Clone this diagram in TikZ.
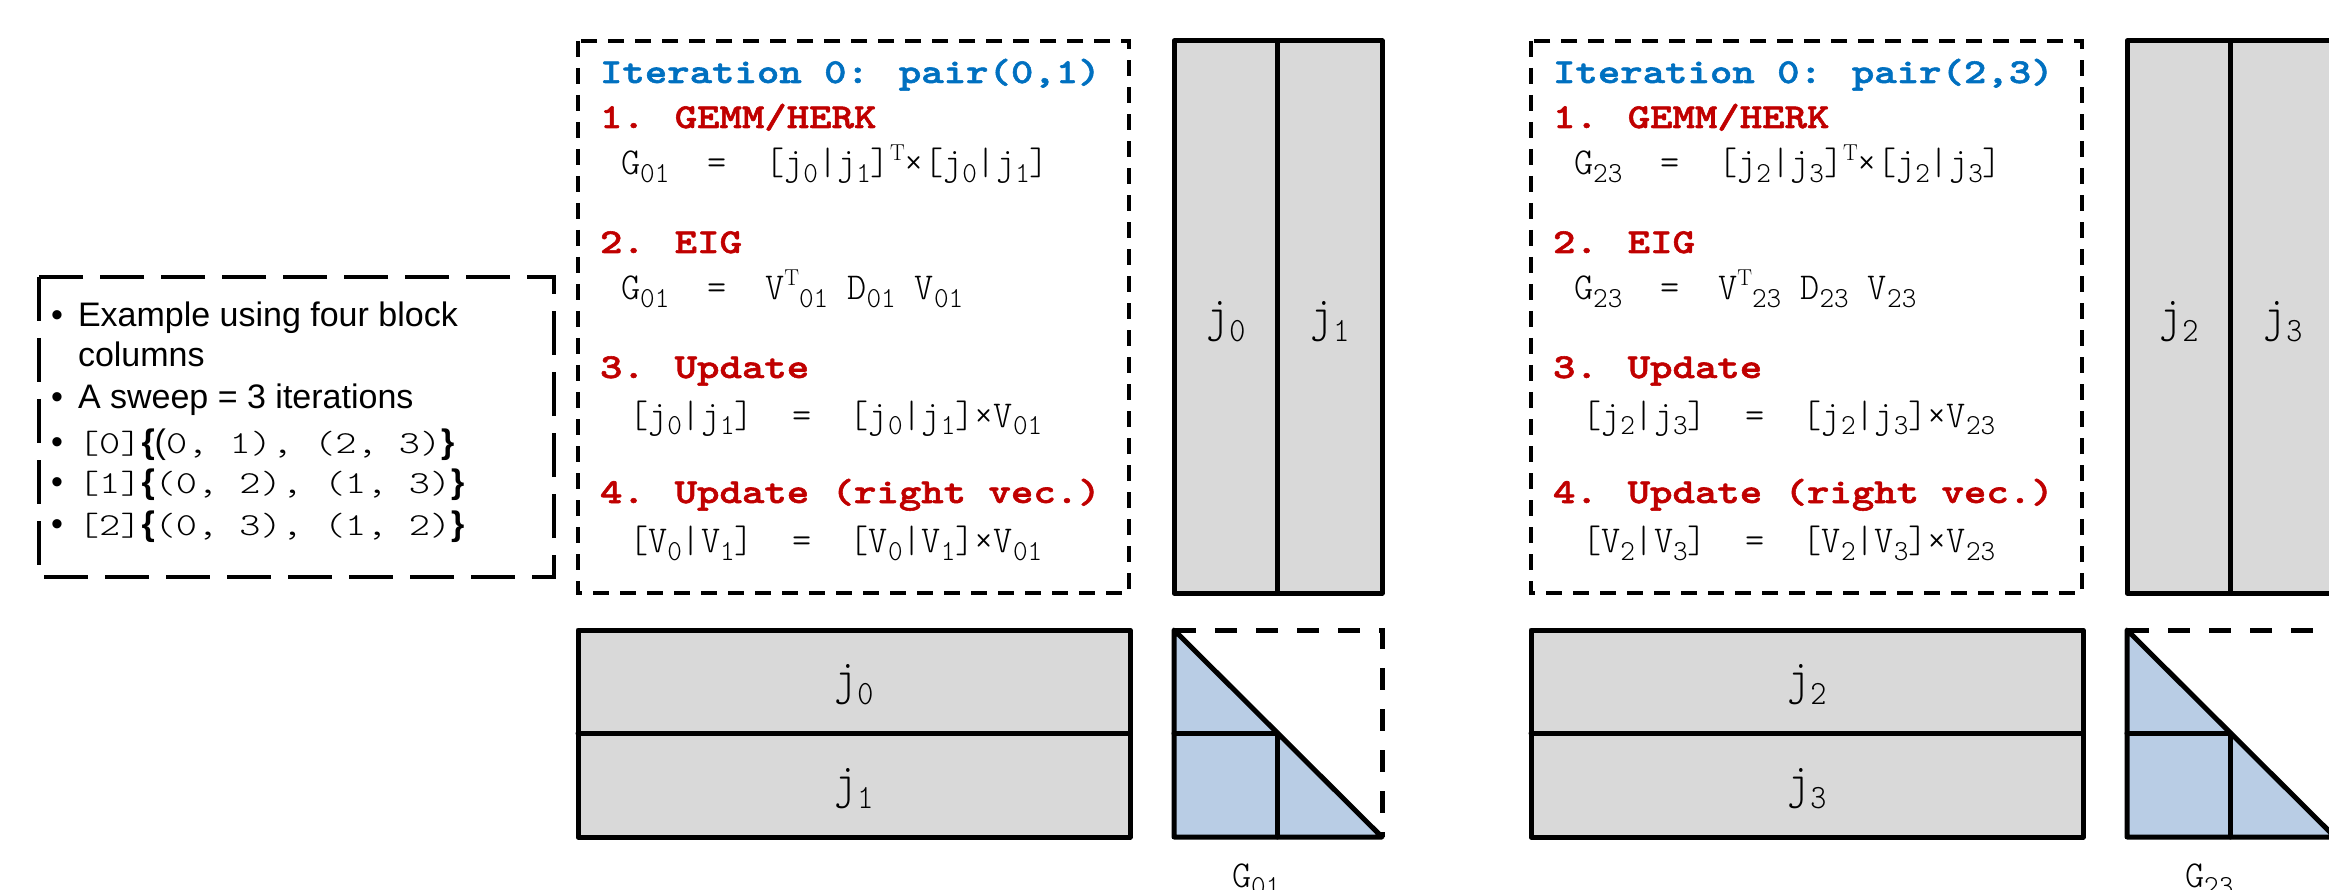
\documentclass[tikz,border=0pt]{standalone}
\usepackage{fontspec}
\usepackage{graphicx}
\newfontfamily\lsans{Liberation Sans}
\newfontfamily\hdrF{lmmonolt10-bold}[Extension=.otf, FakeBold=1.6, FakeStretch=1.22]
\definecolor{cellgray}{HTML}{D9D9D9}
\definecolor{triblue}{HTML}{B9CDE5}
\definecolor{hdrblue}{HTML}{0070C0}
\definecolor{hdrred}{HTML}{C00000}
% fonts / helpers
\newcommand\hdrfont{\hdrF\fontsize{35}{35}\selectfont}
\newcommand\eqfont{\fontsize{38}{38}\selectfont\ttfamily\fontseries{l}\selectfont}
\newcommand\Ex[1]{\scalebox{0.96}[1]{#1}}
\newcommand\sbx[1]{\raisebox{-8pt}{\fontsize{29}{29}\selectfont #1}}
\newcommand\spT{\raisebox{14pt}{\fontsize{23}{23}\selectfont\fontseries{m}\rmfamily T}}
\newcommand\Mx[1]{\scalebox{1.26}[1]{\fontsize{32}{32}\selectfont\ttfamily\fontseries{l}\selectfont #1}}
\newcommand\Br[1]{{\lsans\bfseries #1}}
\newcommand\jlab[2]{\scalebox{0.9}[1]{\fontsize{48}{48}\selectfont\ttfamily\fontseries{l}\selectfont #1\raisebox{-11pt}{\fontsize{34}{34}\selectfont #2}}}
\tikzset{
  every node/.style={inner sep=0pt, outer sep=0pt},
  legenddash/.style={draw=black, line width=4.5pt, dash pattern=on 44pt off 17pt},
  stepdash/.style={draw=black, line width=4pt, dash pattern=on 16pt off 11pt},
  tridash/.style={draw=black, line width=5pt, dash pattern=on 22pt off 19pt},
  cellbox/.style={draw=black, fill=cellgray, line width=5pt, line join=round},
  solidline/.style={draw=black, line width=5pt, line join=round, line cap=round},
  hdrtext/.style={anchor=base west, text=hdrblue, font=\hdrfont},
  steptext/.style={anchor=base west, text=hdrred, font=\hdrfont},
  eqtext/.style={anchor=base west, text=black, font=\eqfont},
  sanstext/.style={anchor=base west, font=\lsans\fontsize{34}{34}\selectfont},
  bullettext/.style={anchor=base, font=\lsans\fontsize{34}{34}\selectfont},
  monotext/.style={anchor=base west, font=\lsans\fontsize{34}{34}\selectfont},
}
\begin{document}
\begin{tikzpicture}[x=1pt, y=-1pt]
\useasboundingbox (0,0) rectangle (2329,890);
% legend box
\draw[legenddash] (39,277) rectangle (554,577);
\node[bullettext] (b1) at (57,327) {•};
\node[sanstext] (t1) at (78,327) {Example using four block};
\node[sanstext] (t2) at (78,367) {columns};
\node[bullettext] (b2) at (57,408) {•};
\node[sanstext] (t3) at (78,408) {A sweep = 3 iterations};
\node[bullettext] (b3) at (57,453) {•};
\node[monotext] (t4) at (78,453) {\Mx{[0]}\Br{\{}{\lsans(}\Mx{0, 1), (2, 3)}\Br{\}}};
\node[bullettext] (b4) at (57,493) {•};
\node[monotext] (t5) at (78,493) {\Mx{[1]}\Br{\{}\Mx{(0, 2), (1, 3)}\Br{\}}};
\node[bullettext] (b5) at (57,535) {•};
\node[monotext] (t6) at (78,535) {\Mx{[2]}\Br{\{}\Mx{(0, 3), (1, 2)}\Br{\}}};
% two iteration groups
\foreach \k/\a/\b/\dx in {1/0/1/0, 2/2/3/953} {
\begin{scope}[xshift=\dx]
  \draw[stepdash] (578,41) rectangle (1129,593);
  \node[hdrtext] (it\k) at (600,83) {Iteration 0: pair(\a,\b)};
  \node[steptext] (s1\k) at (600,128) {1. GEMM/HERK};
  \node[eqtext] (e1\k) at (621,175) {\Ex{G\sbx{\a\b}~~=~~[j\sbx{\a}|j\sbx{\b}]\spT×[j\sbx{\a}|j\sbx{\b}]}};
  \node[steptext] (s2\k) at (600,253) {2. EIG};
  \node[eqtext] (e2\k) at (621,300) {\Ex{G\sbx{\a\b}~~=~~V\spT\sbx{\a\b}~D\sbx{\a\b}~V\sbx{\a\b}}};
  \node[steptext] (s3\k) at (600,378) {3. Update};
  \node[eqtext] (e3\k) at (629,427) {\Ex{[j\sbx{\a}|j\sbx{\b}]~~=~~[j\sbx{\a}|j\sbx{\b}]×V\sbx{\a\b}}};
  \node[steptext] (s4\k) at (600,503) {4. Update (right vec.)};
  \node[eqtext] (e4\k) at (629,552) {\Ex{[V\sbx{\a}|V\sbx{\b}]~~=~~[V\sbx{\a}|V\sbx{\b}]×V\sbx{\a\b}}};
  % vertical block columns
  \draw[cellbox] (1174,41) rectangle (1382,593);
  \draw[solidline] (1277,41) -- (1277,593);
  \node (vc\k a) at (1226,322) {\jlab{j}{\a}};
  \node (vc\k b) at (1330,322) {\jlab{j}{\b}};
  % horizontal block rows
  \draw[cellbox] (578,630) rectangle (1130,837);
  \draw[solidline] (578,733) -- (1130,733);
  \node (hr\k a) at (854,685) {\jlab{j}{\a}};
  \node (hr\k b) at (854,789) {\jlab{j}{\b}};
  % Gram matrix triangle
  \fill[triblue] (1174,630) -- (1382,837) -- (1174,837) -- cycle;
  \draw[tridash] (1174,630) -- (1382,630) -- (1382,837);
  \draw[solidline] (1174,630) -- (1174,837) -- (1382,837) -- cycle;
  \draw[solidline] (1174,733) -- (1277,733) -- (1277,837);
  \node[eqtext] (g\k) at (1232,887) {\Ex{G\sbx{\a\b}}};
\end{scope}
}
\end{tikzpicture}
\end{document}
